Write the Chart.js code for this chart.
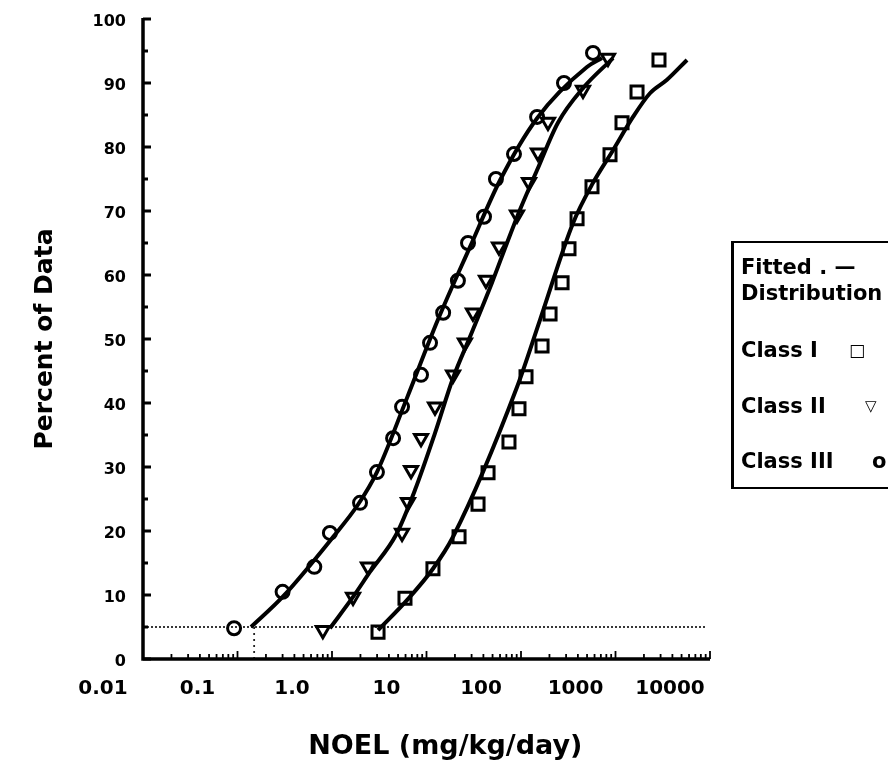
<!DOCTYPE html>
<html><head><meta charset="utf-8">
<script src="https://cdn.jsdelivr.net/npm/chart.js@4.4.0/dist/chart.umd.min.js"></script>
<style>
html,body{margin:0;padding:0;background:#fff;width:888px;height:772px;overflow:hidden;}
#wrap{position:relative;width:888px;height:772px;}
canvas{position:absolute;left:0;top:0;}
#legend{position:absolute;left:731px;top:241px;width:170px;height:244px;border-left:3px solid #000;border-top:2px solid #000;border-bottom:2px solid #000;font-family:'DejaVu Sans',sans-serif;font-weight:bold;font-size:21px;color:#000;}
#legend div{position:absolute;left:7px;white-space:nowrap;line-height:24px;}
#legend span.sym{position:absolute;top:0;}
</style></head><body>
<div id="wrap"><canvas id="c" width="888" height="772"></canvas>
<div id="legend">
<div style="top:12px">Fitted . —</div>
<div style="top:38px">Distribution</div>
<div style="top:95px">Class I<span class="sym" style="left:108px;font-size:17px">□</span></div>
<div style="top:151px">Class II<span class="sym" style="left:124px;font-size:15px">▽</span></div>
<div style="top:206px">Class III<span class="sym" style="left:131px">o</span></div>
</div></div>
<script>
// ---- Observed data (NOEL mg/kg/day vs cumulative percent) ----
const class1NOEL = [3.07, 5.92, 11.7, 22.1, 35.1, 44.8, 74.6, 95.2, 113, 167, 203, 272, 322, 392, 564, 875, 1172, 1690, 2885];
const class1Pct  = [4.2, 9.5, 14.1, 19.1, 24.2, 29.1, 33.9, 39.1, 44.1, 48.9, 53.9, 58.8, 64.1, 68.8, 73.8, 78.8, 83.8, 88.6, 93.6];
const class2NOEL = [0.80, 1.67, 2.40, 5.51, 6.37, 6.86, 8.75, 12.3, 19.1, 25.5, 31.0, 42.6, 58.5, 90.7, 121.6, 151, 193, 453, 833];
const class2Pct  = [4.5, 9.7, 14.4, 19.7, 24.5, 29.5, 34.5, 39.4, 44.4, 49.4, 54.1, 59.2, 64.4, 69.4, 74.5, 79.1, 83.9, 88.9, 93.9];
const class3NOEL = [0.092, 0.30, 0.65, 0.95, 1.98, 2.99, 4.43, 5.51, 8.75, 10.9, 15.0, 21.5, 27.5, 40.6, 54.3, 84.3, 148, 285, 578];
const class3Pct  = [4.8, 10.5, 14.4, 19.7, 24.4, 29.2, 34.5, 39.4, 44.4, 49.4, 54.1, 59.1, 65.0, 69.1, 75.0, 78.9, 84.7, 90.0, 94.7];

// ---- Fitted distributions ----
const fit1NOEL = [3.07, 6.22, 11.7, 19.1, 90.8, 159, 355, 578, 942, 1532, 2317, 3508, 5714];
const fit1Pct  = [4.5, 9.2, 14.1, 19.1, 42.5, 53.0, 68.1, 74.4, 79.5, 84.7, 88.4, 90.5, 93.6];
const fit2NOEL = [0.95, 1.67, 2.52, 4.8, 7.55, 12.3, 19.1, 28.8, 49.3, 71.1, 97.5, 148, 246, 453, 942];
const fit2Pct  = [4.8, 9.7, 13.6, 19.5, 26.4, 35.3, 43.9, 50.3, 58.8, 65.0, 70.2, 76.4, 83.8, 89.2, 93.9];
const fit3NOEL = [0.139, 0.30, 1.03, 1.88, 2.99, 6.22, 13.2, 28.9, 60.0, 148, 499, 719];
const fit3Pct  = [5.0, 9.7, 19.1, 24.1, 29.2, 40.8, 53.0, 64.4, 74.8, 84.5, 92.5, 93.9];

// ---- Reference lines ----
const cutoffPct = 5;
const cutoffNOELRange = [0.01, 9000];
const class3P5NOEL = 0.15;

// ---- Axis ticks ----
const xTickValues = [0.01, 0.1, 1, 10, 100, 1000, 10000];
const xTickLabels = ['0.01', '0.1', '1.0', '10', '100', '1000', '10000'];
const yTickValues = [0, 10, 20, 30, 40, 50, 60, 70, 80, 90, 100];
const yMinorStep = 5;

const pts = (xs, ys) => xs.map((v, i) => ({x: v, y: ys[i]}));

const axesPlugin = {
  id: 'axesDraw',
  afterDatasetsDraw(chart) {
    const {ctx, chartArea: {left, right, top, bottom}, scales: {x, y}} = chart;
    ctx.save();
    ctx.strokeStyle = '#000';
    ctx.lineCap = 'butt';
    ctx.lineWidth = 3.5;
    ctx.beginPath();
    ctx.moveTo(left, top - 1);
    ctx.lineTo(left, bottom);
    ctx.lineTo(right, bottom);
    ctx.stroke();
    ctx.lineWidth = 3;
    for (let v = y.min; v <= y.max; v += yMinorStep) {
      const py = y.getPixelForValue(v);
      const len = (v % 10 === 0) ? 8 : 5;
      ctx.beginPath(); ctx.moveTo(left, py); ctx.lineTo(left + len, py); ctx.stroke();
    }
    ctx.lineWidth = 1.8;
    for (let d = 0; d < xTickValues.length - 1; d++) {
      for (let k = 2; k <= 10; k++) {
        const v = k * xTickValues[d];
        const px = x.getPixelForValue(v);
        const len = (k === 10) ? 8 : 5;
        ctx.beginPath(); ctx.moveTo(px, bottom); ctx.lineTo(px, bottom - len); ctx.stroke();
      }
    }
    ctx.restore();
  }
};

const lineDs = (xs, ys) => ({
  type: 'line', data: pts(xs, ys), borderColor: '#000', borderWidth: 4,
  pointRadius: 0, fill: false, cubicInterpolationMode: 'monotone'
});
const markDs = (xs, ys, style, r, rot) => ({
  type: 'scatter', data: pts(xs, ys), showLine: false, pointStyle: style,
  pointRadius: r, pointRotation: rot, borderColor: '#000', borderWidth: 3,
  backgroundColor: 'rgba(0,0,0,0)'
});

new Chart(document.getElementById('c'), {
  data: {
    datasets: [
      markDs(class1NOEL, class1Pct, 'rect', 8.5, 0),
      markDs(class2NOEL, class2Pct, 'triangle', 7.5, 180),
      markDs(class3NOEL, class3Pct, 'circle', 6.5, 0),
      lineDs(fit1NOEL, fit1Pct),
      lineDs(fit2NOEL, fit2Pct),
      lineDs(fit3NOEL, fit3Pct),
      { type: 'line', data: [{x: cutoffNOELRange[0], y: cutoffPct}, {x: cutoffNOELRange[1], y: cutoffPct}],
        borderColor: '#222', borderWidth: 1.8, borderDash: [2, 2], pointRadius: 0 },
      { type: 'line', data: [{x: class3P5NOEL, y: cutoffPct}, {x: class3P5NOEL, y: 0}],
        borderColor: '#222', borderWidth: 1.8, borderDash: [2, 4], pointRadius: 0 }
    ]
  },
  options: {
    responsive: false, animation: false, devicePixelRatio: 1,
    layout: { padding: { left: 20, top: 19, right: 178, bottom: 0 } },
    plugins: { legend: { display: false }, tooltip: { enabled: false } },
    scales: {
      x: {
        type: 'logarithmic', min: 0.01, max: 10000, position: 'bottom',
        afterBuildTicks: s => { s.ticks = xTickValues.map(v => ({value: v})); },
        afterFit: s => { s.height = 113; s.paddingLeft = 0; s.paddingRight = 0; },
        grid: { display: false }, border: { display: false },
        ticks: {
          autoSkip: false, maxRotation: 0, labelOffset: -40, padding: 10, color: '#000',
          font: { family: 'DejaVu Sans', weight: 'bold', size: 20 },
          callback: (v, i) => xTickLabels[i]
        },
        title: { display: true, text: '\u00a0\u00a0\u00a0\u00a0NOEL (mg/kg/day)', color: '#000',
          font: { family: 'DejaVu Sans', weight: 'bold', size: 27 }, padding: { top: 0, bottom: 9 } }
      },
      y: {
        type: 'linear', min: 0, max: 100,
        afterBuildTicks: s => { s.ticks = yTickValues.map(v => ({value: v})); },
        afterFit: s => { s.width = 123; s.paddingTop = 0; s.paddingBottom = 0; },
        grid: { display: false }, border: { display: false },
        ticks: { padding: 9, labelOffset: 3, color: '#000', font: { family: 'DejaVu Sans', weight: 'bold', size: 16 } },
        title: { display: true, text: 'Percent of Data', color: '#000',
          font: { family: 'DejaVu Sans', weight: 'bold', size: 25 }, padding: { top: 10, bottom: 0 } }
      }
    }
  },
  plugins: [axesPlugin]
});
</script>
</body></html>
